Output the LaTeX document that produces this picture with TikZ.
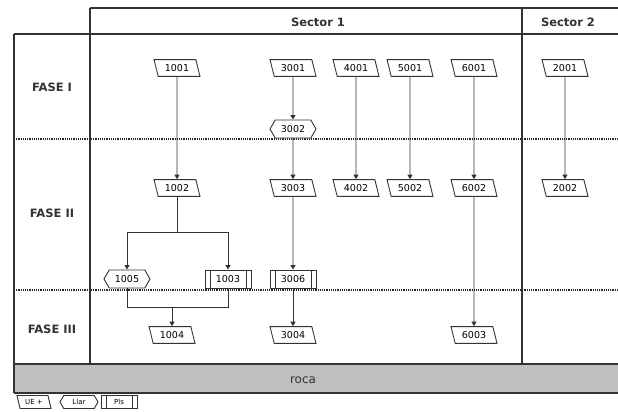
\documentclass[tikz,border=0pt]{standalone}
\usepackage{fontspec}
\setmainfont{DejaVu Sans}
\usepackage{tikz}
\usetikzlibrary{arrows.meta,shapes.geometric,shapes.symbols}

\begin{document}
\begin{tikzpicture}[x=1pt,y=-1pt,
		frame/.style={draw=black!80, line width=1.4pt},
		phase/.style={draw=black!85, line width=1.2pt, densely dotted},
		conn/.style={draw=black!80, line width=0.9pt},
		arr/.style={conn, -{Triangle[width=5pt,length=4.5pt]}},
		lbl/.style={text=black!80, font=\fontsize{11.5}{14}\selectfont\bfseries},
		ue/.style={draw=black!80, fill=white, line width=0.9pt, trapezium, trapezium left angle=104, trapezium right angle=76, trapezium stretches body, minimum width=46, inner xsep=1pt, inner ysep=4.8pt, font=\fontsize{9.5}{10}\selectfont},
		llar/.style={draw=black!80, fill=white, line width=0.9pt, signal, signal to=west and east, signal pointer angle=120, minimum width=46, minimum height=18, inner sep=1pt, font=\fontsize{9.5}{10}\selectfont},
		pls/.style={draw=black!80, fill=white, line width=0.9pt, rectangle, minimum width=46, minimum height=18, inner sep=1pt, font=\fontsize{9.5}{10}\selectfont,
			path picture={\draw[black!80, line width=0.9pt] ([xshift=5pt]path picture bounding box.north west) -- ([xshift=5pt]path picture bounding box.south west);
				\draw[black!80, line width=0.9pt] ([xshift=-5pt]path picture bounding box.north east) -- ([xshift=-5pt]path picture bounding box.south east);}},
		small/.style={minimum width=34, minimum height=13, inner ysep=3.5pt, font=\fontsize{7}{8}\selectfont}]
	\useasboundingbox (0,0) rectangle (618,412);
	\fill[gray!50] (14,364) rectangle (618,393);
	\draw[frame] (14,364) -- (618,364);
	\draw[frame] (14,393) -- (618,393);
	\draw[frame] (90,8) -- (618,8);
	\draw[frame] (14,34) -- (618,34);
	\draw[frame] (14,34) -- (14,393);
	\draw[frame] (90,8) -- (90,364);
	\draw[frame] (522,8) -- (522,364);
	\draw[phase] (14,139) -- (618,139);
	\draw[phase] (14,290) -- (618,290);
	\node[lbl] (sec1) at (318,22) {Sector 1};
	\node[lbl] (sec2) at (568,22) {Sector 2};
	\node[lbl] (f1) at (52,87) {FASE I};
	\node[lbl] (f2) at (52,213) {FASE II};
	\node[lbl] (f3) at (52,329) {FASE III};
	\node[lbl, font=\fontsize{12}{14}\selectfont] (roca) at (303,380) {roca};
	\node[ue] (n1001) at (177,68) {1001};
	\node[ue] (n3001) at (293,68) {3001};
	\node[ue] (n4001) at (356,68) {4001};
	\node[ue] (n5001) at (410,68) {5001};
	\node[ue] (n6001) at (474,68) {6001};
	\node[ue] (n2001) at (565,68) {2001};
	\node[llar] (n3002) at (293,129) {3002};
	\node[ue] (n1002) at (177,188) {1002};
	\node[ue] (n3003) at (293,188) {3003};
	\node[ue] (n4002) at (356,188) {4002};
	\node[ue] (n5002) at (410,188) {5002};
	\node[ue] (n6002) at (474,188) {6002};
	\node[ue] (n2002) at (565,188) {2002};
	\node[llar] (n1005) at (127,279) {1005};
	\node[pls] (n1003) at (228,279) {1003};
	\node[pls] (n3006) at (293,279) {3006};
	\node[ue] (n1004) at (172,335) {1004};
	\node[ue] (n3004) at (293,335) {3004};
	\node[ue] (n6003) at (474,335) {6003};
	\coordinate (split) at (177,232);
	\coordinate (merge) at (172,307);
	\draw[arr] (n1001) -- (n1002);
	\draw[arr] (n3001) -- (n3002);
	\draw[arr] (n3002) -- (n3003);
	\draw[arr] (n4001) -- (n4002);
	\draw[arr] (n5001) -- (n5002);
	\draw[arr] (n6001) -- (n6002);
	\draw[arr] (n2001) -- (n2002);
	\draw[conn] (n1002) -- (split);
	\draw[arr] (split) -| (n1005);
	\draw[arr] (split) -| (n1003);
	\draw[arr] (n3003) -- (n3006);
	\draw[conn] (n1005) |- (merge);
	\draw[conn] (n1003) |- (merge);
	\draw[arr] (merge) -- (n1004);
	\draw[arr] (n3006) -- (n3004);
	\draw[arr] (n6002) -- (n6003);
	\node[ue, small] (kue) at (34,402) {UE +};
	\node[llar, small, minimum width=38] (kllar) at (79,402) {Llar};
	\node[pls, small, minimum width=36] (kpls) at (119,402) {Pls};
\end{tikzpicture}
\end{document}
